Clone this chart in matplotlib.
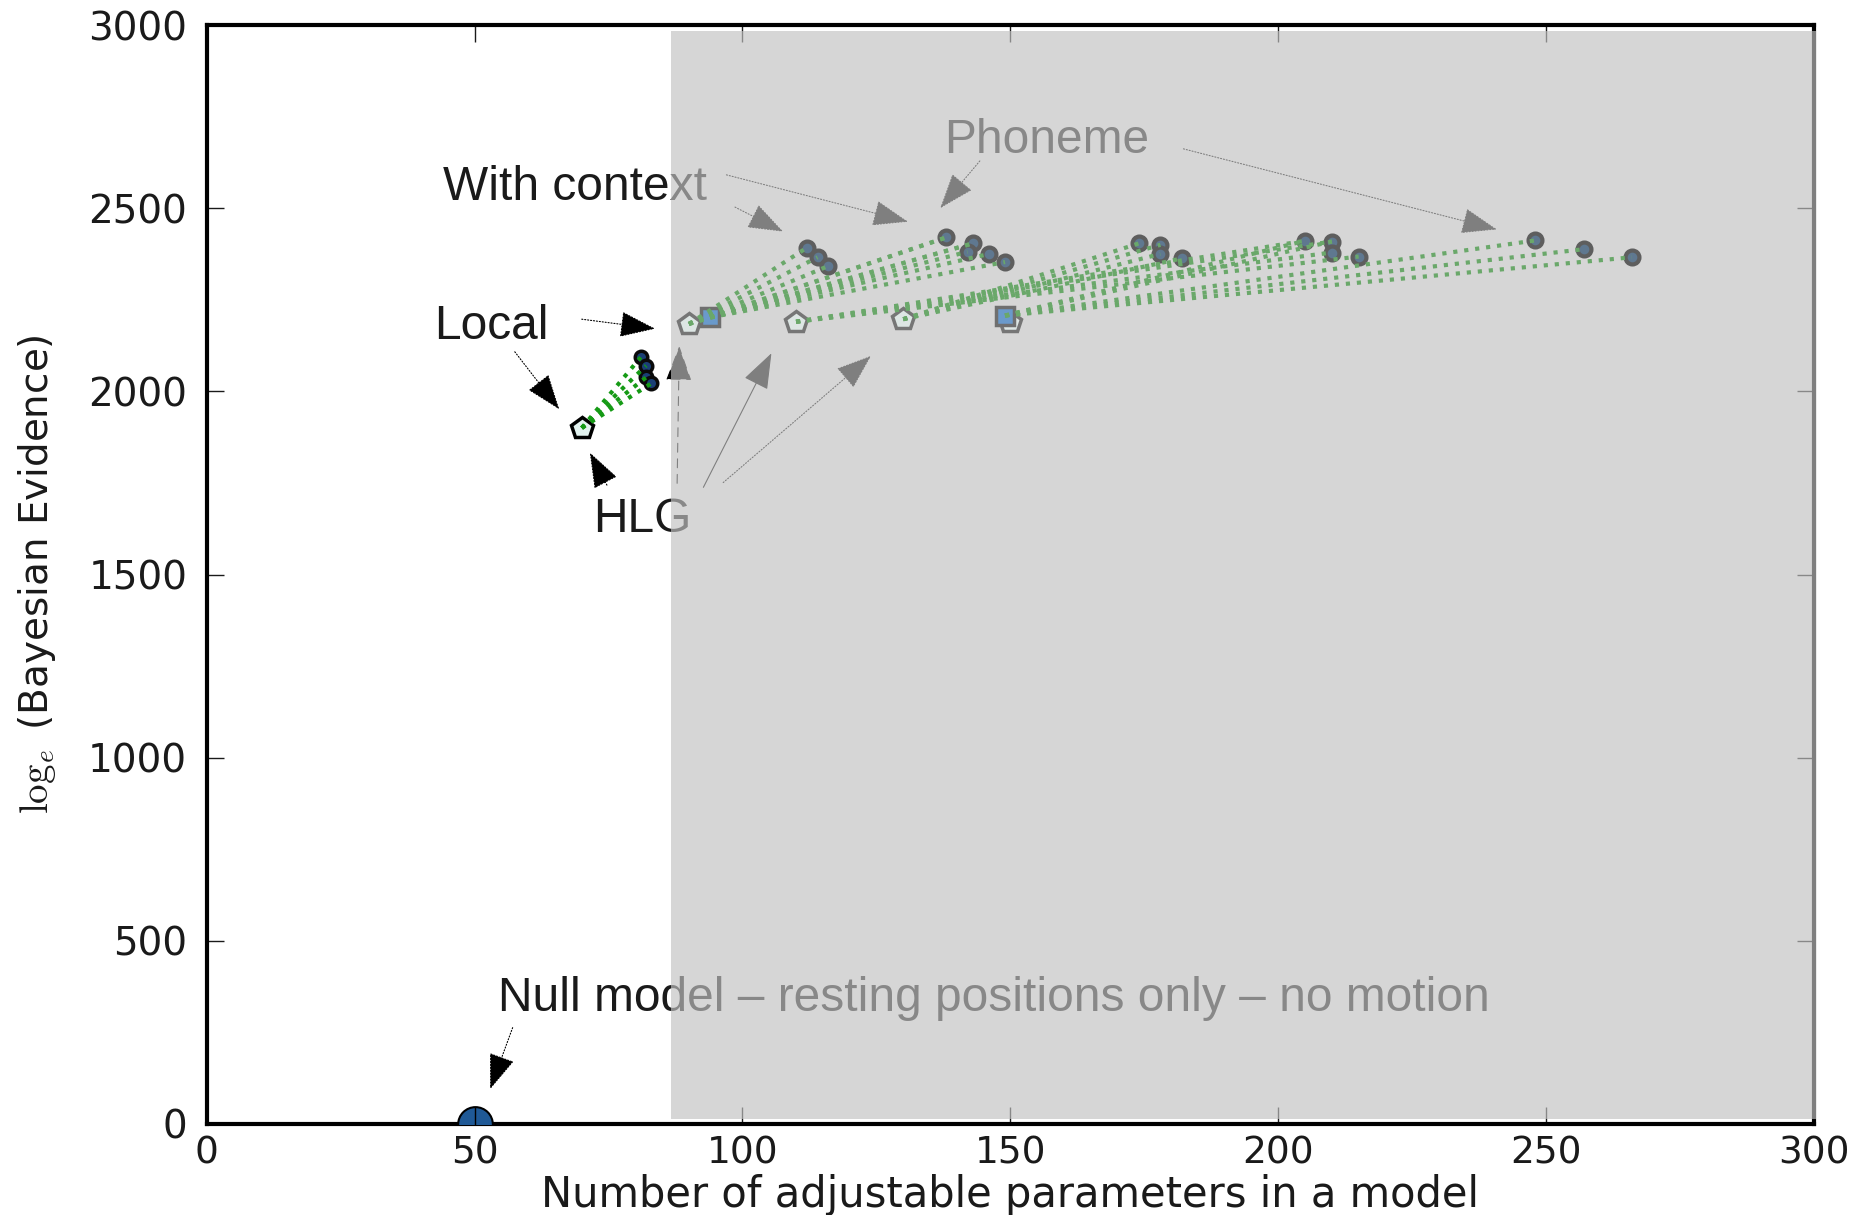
import matplotlib.pyplot as plt
from matplotlib.patches import Rectangle

plt.rcParams['mathtext.fontset'] = 'cm'

# null model
null_x = [50]
null_y = [0]

# local models: base and with context
local_base_x = [70]
local_base_y = [1900]
local_ctx_x = [81, 82, 82, 83]
local_ctx_y = [2093, 2070, 2038, 2022]

# phoneme models: HLG bases (pentagons) and square variants
hlg_x = [90, 110, 130, 150]
hlg_y = [2184, 2190, 2197, 2190]
square_x = [94, 149]
square_y = [2202, 2207]

# phoneme models with context (grey dots), in groups
grp_a_x = [112, 114, 116]
grp_a_y = [2392, 2366, 2342]
grp_b_x = [138, 143, 142, 146, 149]
grp_b_y = [2420, 2404, 2381, 2375, 2353]
grp_c_x = [174, 178, 178, 182]
grp_c_y = [2404, 2400, 2375, 2363]
grp_d_x = [205, 210, 210, 215]
grp_d_y = [2411, 2409, 2379, 2368]
grp_e_x = [248, 257, 266]
grp_e_y = [2412, 2388, 2366]

xticks = [0, 50, 100, 150, 200, 250, 300]
yticks = [0, 500, 1000, 1500, 2000, 2500, 3000]

fig = plt.figure(figsize=(18.69, 12.15), dpi=100)
ax = fig.add_axes([0.1106, 0.0749, 0.8600, 0.9045])
ax.set_xlim(0, 300)
ax.set_ylim(0, 3000)

# dotted links from base models to their context variants
fans = [
    (hlg_x[0], hlg_y[0], grp_a_x, grp_a_y),
    (square_x[0], square_y[0], grp_b_x, grp_b_y),
    (hlg_x[0], hlg_y[0], grp_b_x[:2], grp_b_y[:2]),
    (hlg_x[1], hlg_y[1], grp_d_x, grp_d_y),
    (hlg_x[2], hlg_y[2], grp_c_x, grp_c_y),
    (square_x[1], square_y[1], grp_e_x, grp_e_y),
    (square_x[1], square_y[1], grp_d_x[:2], grp_d_y[:2]),
]
for x0, y0, gx, gy in fans:
    for xt, yt in zip(gx, gy):
        ax.plot([x0, xt], [y0, yt], ':', color='#6aa86a', lw=3, zorder=5)
for xt, yt in zip(local_ctx_x, local_ctx_y):
    ax.plot([local_base_x[0], xt], [local_base_y[0], yt], ':', color='#159a15',
            lw=3, zorder=5)

# markers
ax.plot(null_x, null_y, 'o', ms=25, mfc='#1f5996', mec='k', mew=1.5, zorder=4)
ax.plot(null_x, null_y, '|', ms=25, color='k', mew=1, zorder=4)
ax.plot(local_base_x, local_base_y, 'p', ms=16, mfc='#e2f2ef', mec='k', mew=2.5, zorder=4)
ax.plot(local_ctx_x, local_ctx_y, 'o', ms=9, mfc='#1a3f75', mec='#0a0a0a', mew=2.5, zorder=4)
ax.plot(hlg_x, hlg_y, 'p', ms=16, mfc='#dde6e4', mec='#767676', mew=2.5, zorder=4)
ax.plot(square_x, square_y, 's', ms=13, mfc='#6a9acb', mec='#6f6f6f', mew=2.5, zorder=4)
for gx, gy in [(grp_a_x, grp_a_y), (grp_b_x, grp_b_y), (grp_c_x, grp_c_y),
               (grp_d_x, grp_d_y), (grp_e_x, grp_e_y)]:
    ax.plot(gx, gy, 'o', ms=10, mfc='#5f7890', mec='#5e5e5e', mew=3, zorder=4)

# labels
tfont = dict(family=['Liberation Sans', 'DejaVu Sans'], fontsize=34.5, color='#1a1a1a', zorder=2)
ax.text(44.1, 2522, 'With context', **tfont)
ax.text(137.6, 2652, 'Phoneme', **tfont)
ax.text(42.4, 2144, 'Local', **tfont)
ax.text(72.2, 1617, 'HLG', **tfont)
ax.text(54.4, 308, 'Null model \u2013 resting positions only \u2013 no motion', **tfont)

# arrows (start, tip)
arrows = [
    ((97.0, 2591), (130.9, 2463), ':'),
    ((98.6, 2503), (107.6, 2436), ':'),
    ((144.3, 2629), (136.9, 2500), ':'),
    ((182.3, 2662), (240.8, 2442), ':'),
    ((70.0, 2197), (83.7, 2171), ':'),
    ((57.5, 2108), (65.8, 1951), ':'),
    ((74.7, 1744), (71.5, 1833), ':'),
    ((87.8, 1749), (88.2, 2124), (0, (8, 6))),
    ((92.7, 1738), (105.4, 2104), '-'),
    ((96.4, 1751), (124.0, 2097), ':'),
    ((57.1, 263), (52.9, 95), ':'),
]
for start, tip, ls in arrows:
    ax.annotate('', xy=tip, xytext=start, zorder=2,
                arrowprops=dict(arrowstyle='-|>,head_length=0.6,head_width=0.22',
                                mutation_scale=38, lw=0.8, ls=ls, color='k',
                                shrinkA=0, shrinkB=0))

# grey overlay over the larger models
ax.add_patch(Rectangle((86.65, 15), 300.3 - 86.65, 2984 - 15, facecolor='#c2c2c2',
                       alpha=0.66, edgecolor='none', zorder=3, clip_on=False))

ax.set_xticks(xticks)
ax.set_yticks(yticks)
ax.tick_params(direction='in', length=12, width=1, top=True, right=True,
               colors='#1a1a1a')
ax.tick_params(axis='x', labelsize=27, pad=8)
ax.tick_params(axis='y', labelsize=28, pad=14)
for sp in ax.spines.values():
    sp.set_linewidth(3)

ax.set_xlabel('Number of adjustable parameters in a model', fontsize=30,
              color='#1a1a1a', labelpad=2)
ax.set_ylabel(r'$\log_e$ (Bayesian Evidence)', fontsize=28, color='#1a1a1a',
              family=['Liberation Sans Narrow', 'DejaVu Sans'], labelpad=22)

plt.savefig('out.png', dpi=100)
